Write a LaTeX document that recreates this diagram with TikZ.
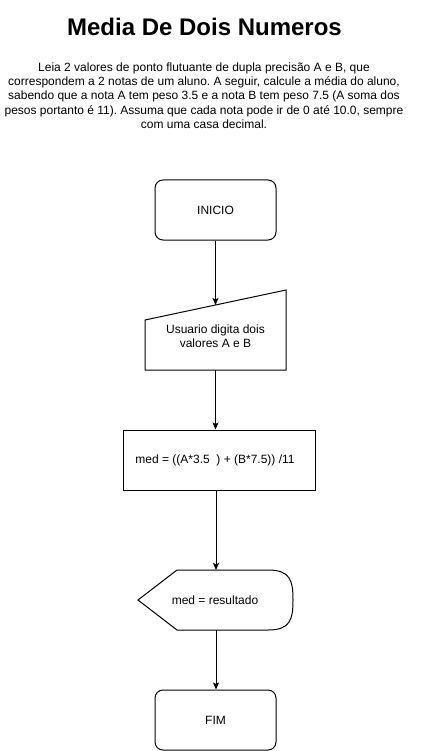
\documentclass[tikz,border=0pt]{standalone}
\usepackage{fontspec}
\setmainfont{Liberation Sans}
\usetikzlibrary{arrows.meta}
\frenchspacing
\begin{document}
\begin{tikzpicture}[x=1pt,y=-1pt,
  font=\fontsize{12}{14.3}\selectfont,
  line width=1pt,
  flow/.style={-{Stealth[length=7pt,width=6pt,inset=1.5pt]}},
  termbox/.style={draw, rounded corners=8pt, minimum width=121pt, minimum height=60pt},
  procbox/.style={draw, minimum width=192pt, minimum height=60pt},
  plain/.style={inner sep=0pt, align=center}]
\useasboundingbox (0,0) rectangle (421,751);
\node[plain, font=\bfseries\fontsize{24}{28}\selectfont] (title) at (204.5,27) {Media De Dois Numeros};
\node[plain, font=\fontsize{12}{14.3}\selectfont] (desc) at (204,95.5) {Leia 2 valores de ponto flutuante de dupla precisão A e B, que\\correspondem a 2 notas de um aluno. A seguir, calcule a média do aluno,\\sabendo que a nota A tem peso 3.5 e a nota B tem peso 7.5 (A soma dos\\pesos portanto é 11). Assuma que cada nota pode ir de 0 até 10.0, sempre\\com uma casa decimal.};
% start
\node[termbox] (ini) at (215.5,210) {INICIO};
% manual input
\draw (145,320) -- (286,290) -- (286,370) -- (145,370) -- cycle;
\node[plain] (inp) at (215.5,336) {Usuario digita dois\\valores A e B};
\coordinate (inptop) at (215.5,305);
\coordinate (inpbot) at (215.5,370);
% process
\node[procbox] (proc) at (219,460) {};
\node[plain] (proctext) at (215,460) {med = ((A*3.5\ \ ) + (B*7.5)) /11};
% display
\draw (138,600) -- (177,570) -- (268,570) .. controls (290,570) and (293,580) .. (293,600) .. controls (293,620) and (290,630) .. (268,630) -- (177,630) -- cycle;
\node[plain] (out) at (215,600) {med = resultado};
\coordinate (outtop) at (216,570);
\coordinate (outbot) at (216,630);
% end
\node[termbox] (fim) at (215.5,720) {FIM};
% connectors
\draw[flow] (ini.south) -- (inptop);
\draw[flow] (inpbot) -- (inpbot |- proc.north);
\draw[flow] (proc.south -| outtop) -- (outtop);
\draw[flow] (outbot) -- (outbot |- fim.north);
\end{tikzpicture}
\end{document}
